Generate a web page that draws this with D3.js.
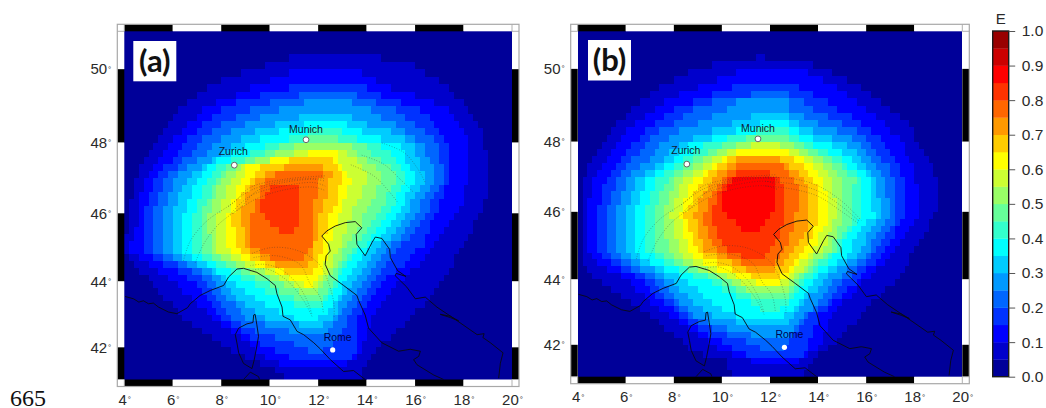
<!DOCTYPE html>
<html><head><meta charset="utf-8">
<script src="https://cdn.jsdelivr.net/npm/d3@7/dist/d3.min.js"></script>
<style>
html,body{margin:0;padding:0;background:#fff}
svg{display:block}
text{font-family:"Liberation Sans",Arial,sans-serif}
</style></head><body>
<svg id="c" width="1046" height="408"></svg>
<script>
// colour classes of the E scale (0.0 - 1.0, steps of 0.05)
const bandEdges = d3.range(0, 21).map(i => i / 20);
const bandColors = ["#000099","#0000cc","#0000ff","#0033ff","#0066ff","#0099ff","#00ccff","#00ffff","#33ffcc","#66ff99","#99ff66","#ccff33","#ffff00","#ffcc00","#ff9900","#ff6600","#ff3300","#ff0000","#cc0000","#990000"];
const lonTicks = [4,6,8,10,12,14,16,18,20];
const latTicks = [42,44,46,48,50];
const barTicks = [0,0.1,0.2,0.3,0.4,0.5,0.6,0.7,0.8,0.9,1.0];
const lonEdges = [4,20], latEdges = [41,51], cellDeg = 0.2;

// class reached in each 0.2° cell, read row by row (row 0 = 51°N):
// one list per class: first row, then start,end column pairs for the following rows
const classesA = [
[3,34,53,29,60,24,62,20,65,17,67,15,68,13,70,11,71,10,72,9,73,8,74,7,74,6,74,5,75,4,75,3,75,3,75,2,75,2,75,2,75,1,74,1,74,1,73,1,72,1,72,0,71,0,70,0,69,1,68,2,68,3,67,5,66,6,65,7,64,8,63,10,62,11,60,12,59,14,58,16,56,18,55,20,53,22,52,25,51,28,50,31,49,33,49],
[5,34,49,30,52,26,55,23,60,19,64,16,67,15,68,13,69,12,70,10,71,9,71,8,71,7,71,6,71,5,71,4,71,4,70,3,70,3,70,3,69,3,68,3,67,2,66,2,65,1,64,1,63,3,62,5,61,7,59,9,58,11,56,12,55,14,54,15,53,17,52,18,51,20,51,22,50,24,50,26,49,27,49,29,48,32,46],
[7,34,50,28,53,23,57,20,61,18,63,16,64,15,65,13,66,12,67,11,67,10,67,8,67,7,67,6,67,6,66,5,66,5,65,4,65,4,64,4,63,4,63,4,62,4,62,4,60,6,59,8,58,11,56,13,54,15,53,16,52,17,51,18,50,19,49,20,48,22,48,24,48,26,48,28,48,31,48,34,47],
[8,36,48,30,52,26,56,23,58,20,60,18,62,16,64,15,65,14,65,12,65,11,66,9,66,8,66,8,65,7,64,7,63,6,63,6,62,6,61,6,60,6,59,6,57,6,56,8,55,11,54,14,53,16,52,17,51,18,50,19,49,20,48,21,47,22,46,24,46,27,45,31,44,35,43,38,41],
[9,37,47,32,51,28,53,25,56,22,58,20,60,18,62,17,62,15,63,13,64,11,64,10,64,10,63,9,62,9,61,8,61,8,60,8,59,8,58,8,57,8,55,8,54,10,53,13,52,16,51,18,50,19,49,20,48,21,47,23,46,24,45,25,44,29,43,34,42],
[11,36,47,31,50,27,55,24,58,22,60,20,60,18,61,16,61,14,62,13,62,12,61,11,60,11,59,10,59,10,58,10,57,10,56,10,55,10,53,10,52,12,51,15,50,18,49,20,48,21,47,22,46,23,45,25,44,27,44,29,43,36,41],
[12,37,46,32,49,28,53,25,57,22,58,19,58,17,59,16,60,15,60,14,59,14,58,13,58,13,57,12,56,12,55,12,54,12,53,12,51,12,50,14,49,17,48,19,47,21,46,23,45,25,45,27,44,29,43,32,42,35,40],
[13,38,45,34,48,29,53,26,55,22,56,19,57,18,58,17,58,16,57,16,56,15,56,15,55,14,54,14,53,14,52,14,51,14,50,14,48,16,47,19,46,22,45,24,44,27,44,29,43,32,42,35,41],
[14,38,44,32,50,29,51,25,53,21,55,20,56,19,56,18,55,18,54,17,54,16,53,16,52,16,51,16,50,16,49,16,48,16,47,18,46,21,45,24,44,27,44,30,43,32,42,35,41],
[15,35,47,31,48,27,50,23,52,21,53,20,53,19,52,19,52,18,51,18,50,17,49,17,49,17,48,18,47,18,46,18,45,20,45,23,44,26,43,30,42,33,41,36,40],
[16,35,46,30,48,24,49,23,50,22,50,21,49,21,49,20,48,20,47,19,47,19,46,19,46,19,45,19,45,19,44,22,43,25,43,29,42,32,41,35,40],
[16,38,44,30,44,25,45,25,46,24,47,23,46,23,46,22,45,22,45,21,44,21,44,21,43,21,43,21,42,22,42,24,42,27,41,31,41,34,40,37,39],
[17,34,43,28,44,27,45,26,45,25,44,24,44,23,44,23,43,22,42,22,42,23,42,23,41,23,41,24,41,26,40,29,40,33,39],
[18,33,41,29,43,27,42,26,42,25,42,25,41,24,41,24,40,24,40,25,40,25,40,25,39,26,39,28,39,31,38],
[19,31,41,29,40,28,40,28,40,27,39,27,39,26,39,26,39,26,39,26,39,26,39,28,38,30,37],
[21,30,36,29,36,28,36,28,36,29,36,30,36,32,35]
];
const classesB = [
[3,37,39,28,49,23,53,20,56,17,59,15,61,13,63,11,65,10,67,8,69,7,70,6,70,5,71,4,72,3,73,2,74,2,74,1,75,1,75,1,75,1,75,1,75,1,74,1,73,1,73,1,72,1,71,1,70,1,69,1,69,2,68,3,67,5,66,7,64,9,63,11,61,13,60,15,59,17,58,18,56,20,55,22,54,23,52,26,50,31,49,31,48,32,47],
[5,33,48,29,51,25,54,21,56,18,58,16,60,14,62,12,64,10,65,9,67,8,68,7,68,6,69,5,70,4,70,3,70,3,71,3,71,2,71,2,71,2,71,2,70,2,69,2,68,2,67,2,66,3,65,4,64,6,62,9,61,11,59,12,58,14,57,15,55,17,54,19,53,21,52,23,52,25,51,27,51,29,50,32,48,36,46],
[7,32,46,28,49,24,52,20,54,18,57,16,59,14,61,13,63,11,64,10,65,9,66,8,67,7,67,6,68,5,68,5,68,5,68,4,68,4,68,4,67,4,66,4,66,4,65,4,64,5,63,7,62,9,60,12,59,14,58,15,56,16,55,18,53,20,52,21,50,23,50,25,49,27,49,30,48,32,48,35,47],
[8,36,44,28,47,24,49,22,52,20,55,17,58,15,60,14,61,13,62,11,63,10,65,9,65,8,66,8,66,7,66,7,66,6,66,6,66,6,66,6,65,6,64,6,63,6,62,7,61,9,60,11,58,14,57,16,55,17,54,18,53,20,52,21,50,23,48,25,47,28,46,31,45,35,44,38,43],
[9,33,44,31,44,28,47,25,50,21,54,19,57,17,59,16,60,15,61,13,62,11,63,10,64,10,64,9,64,9,65,8,65,8,65,8,64,8,63,8,62,8,61,8,61,9,60,11,58,13,56,16,55,18,53,19,52,20,51,21,50,23,49,24,47,27,46,31,45,36,44],
[11,36,44,32,46,28,49,24,53,21,56,19,58,18,59,16,60,14,61,12,62,12,62,11,62,11,63,10,63,10,63,10,62,10,61,10,60,10,60,10,59,11,58,13,56,16,54,18,52,20,51,21,50,23,48,24,47,26,46,28,45,33,44],
[12,38,44,33,46,28,49,23,53,21,55,20,57,18,58,16,60,14,61,14,61,13,61,13,61,12,61,12,62,12,60,12,59,12,58,12,57,12,57,13,56,15,54,18,52,21,50,23,49,25,48,26,47,28,46,30,45,33,43],
[13,37,44,31,46,26,49,24,52,22,55,20,56,18,58,16,59,16,59,15,59,15,59,14,59,14,59,14,58,14,57,14,56,14,55,14,55,16,53,18,52,21,50,24,49,28,47,30,46,33,45,36,44,38,42],
[14,35,44,30,47,27,50,24,53,22,55,20,56,19,58,18,57,17,57,17,57,16,57,16,57,16,57,16,56,16,55,16,54,16,54,18,52,20,50,23,49,27,47,30,46,33,45,36,44],
[15,33,45,29,48,26,51,24,53,22,54,20,55,20,55,19,55,19,55,18,55,18,55,18,55,18,54,18,54,19,53,19,53,20,51,22,49,25,48,29,46,32,45,35,44],
[15,36,42,31,46,28,49,26,51,24,52,22,53,21,53,21,53,20,54,20,54,19,54,20,53,20,53,20,52,21,52,21,51,22,49,24,48,27,47,31,45,34,44],
[16,33,44,30,47,28,49,26,50,24,51,23,51,23,52,22,52,22,52,21,52,22,52,22,51,22,50,23,50,23,49,24,48,26,46,29,45,33,44,37,42],
[17,31,45,29,47,27,48,26,49,25,50,24,50,24,50,23,50,22,50,23,50,23,49,24,49,24,48,25,47,26,46,29,45,32,44,36,42],
[17,33,42,31,44,29,46,28,47,27,48,26,48,25,48,25,48,24,48,25,48,25,48,25,47,26,46,26,45,29,44,32,43,35,41],
[18,33,43,31,44,30,45,29,46,28,46,27,46,27,46,26,45,26,45,27,45,27,44,28,44,29,43,31,42,34,41],
[19,33,40,31,42,30,43,29,43,29,43,28,43,28,43,28,43,29,42,29,42,30,41,31,40,34,39],
[20,32,41,31,41,30,41,30,41,30,41,31,40,33,39,34,38]
];

// coastlines (lon, lat)
const coastItalyWest = [[4.03,43.55],[4.38,43.48],[4.6,43.38],[4.79,43.42],[5.0,43.33],[5.20,43.35],[5.41,43.23],[5.82,43.08],[6.17,43.03],[6.61,43.21],[6.72,43.33],[7.13,43.58],[7.55,43.73],[8.10,43.88],[8.30,44.13],[8.65,44.37],[8.92,44.39],[9.47,44.27],[9.89,44.08],[10.23,43.88],[10.30,43.63],[10.51,43.23],[10.55,42.95],[10.85,42.84],[11.13,42.49],[11.40,42.39],[11.82,42.14],[12.09,41.95],[12.50,41.62],[13.05,41.25],[13.46,41.28],[13.94,41.0]];
const coastAdriatic = [[17.18,41.0],[16.77,41.14],[16.08,41.46],[15.94,41.62],[16.15,41.72],[16.22,41.88],[15.80,41.94],[15.32,41.88],[14.63,42.14],[14.08,42.59],[13.94,42.99],[13.67,43.43],[13.60,43.58],[13.05,43.88],[12.50,44.17],[12.29,44.51],[12.33,44.76],[12.50,44.90],[12.43,45.10],[12.15,45.34],[12.36,45.49],[12.70,45.63],[13.12,45.73],[13.53,45.76],[13.80,45.58],[13.57,45.39],[13.60,45.10],[13.94,44.76],[14.22,45.15],[14.36,45.31],[14.63,45.27],[14.95,44.95],[14.98,44.71],[15.28,44.32],[15.62,44.15],[15.22,44.24],[15.18,44.17],[15.66,43.83],[16.01,43.48],[16.42,43.53],[16.90,43.23],[17.59,42.89],[18.56,42.39],[18.85,42.42],[18.8,42.3],[19.11,42.14],[19.63,41.83],[19.52,41.51],[19.45,41.04]];
const coastCorsica = [[9.40,43.01],[9.47,42.69],[9.54,42.34],[9.47,42.04],[9.36,41.61],[9.27,41.34],[8.92,41.50],[8.72,41.83],[8.65,42.13],[8.58,42.39],[8.72,42.59],[9.06,42.72],[9.31,42.76],[9.34,42.99],[9.40,43.01]];
const coastSardinia = [[8.92,41.0],[9.2,41.23],[9.54,41.09],[9.58,41.0]];
const coastPeljesac = [[17.04,43.01],[17.46,42.95],[17.8,42.81],[17.46,42.91],[17.04,43.01]];
const coasts = [coastItalyWest, coastAdriatic, coastCorsica, coastSardinia, coastPeljesac];

// dotted fault arcs (lon, lat)
const arcsWest = [
[[6.44,44.61],[6.72,45.19],[7.41,45.78],[8.51,46.31],[9.2,46.74],[10.58,46.97],[11.82,47.05],[12.29,47.07]],
[[6.93,44.56],[7.27,45.10],[7.89,45.68],[8.79,46.17],[9.47,46.64],[10.58,46.88],[11.82,46.97],[12.29,46.92]],
[[8.37,45.97],[9.2,46.5],[10.58,46.78],[11.82,46.88],[12.29,46.78]],
[[8.5,46.0],[9.4,46.4],[10.6,46.67],[11.8,46.75],[12.3,46.65]],
[[8.3,46.2],[9.2,46.65],[10.6,46.93],[11.9,47.0],[12.3,47.0]]];
const arcsSouth = [
[[9.27,44.83],[10.03,45.0],[10.99,44.95],[11.82,44.66],[12.22,44.32],[12.63,43.43],[12.66,42.94]],
[[9.2,44.47],[9.75,44.51],[10.44,44.37],[11.13,43.93],[11.54,43.43],[11.75,42.99]],
[[9.2,44.32],[9.89,44.37],[10.71,44.03],[11.40,43.43],[11.75,42.94]],
[[9.34,44.71],[10.3,44.76],[11.26,44.5],[11.67,43.93],[12.08,43.53],[12.22,43.03]]];
const arcsEastA = [
[[14.63,47.99],[15.53,47.73],[16.08,47.3],[16.42,46.88]],
[[13.8,47.65],[14.7,47.4],[15.39,46.97],[15.94,46.6]],
[[13.35,47.38],[14.29,47.07],[14.91,46.64],[15.32,46.28]]];
const arcsEastB = [
[[11.8,47.0],[13.0,46.95],[14.0,46.75],[15.0,46.3],[15.8,45.75]],
[[11.8,46.88],[13.0,46.8],[14.0,46.6],[15.0,46.15],[15.75,45.7]],
[[11.8,46.75],[13.0,46.65],[14.0,46.45],[15.0,46.0],[15.7,45.65]]];

const cities = [
 {name:"Zurich", lon:8.54, lat:47.37, ring:true},
 {name:"Munich", lon:11.5, lat:48.08, ring:true},
 {name:"Rome",   lon:12.6, lat:41.92, ring:false}];

const panels = [
 {tag:"(a)", classes:classesA, arcs:[...arcsWest,...arcsSouth,...arcsEastA], x:[124.3,512], y:[31.3,379.5], box:[133.3,41,43,40.3]},
 {tag:"(b)", classes:classesB, arcs:[...arcsWest,...arcsSouth,...arcsEastB], x:[577.7,962.3], y:[31.3,376.7], box:[588,40,43,40.5]}
];

const svg = d3.select("#c");
svg.append("defs").append("filter").attr("id","soft").attr("x","-2%").attr("y","-2%").attr("width","104%").attr("height","104%")
   .append("feGaussianBlur").attr("stdDeviation",0.45);

const merc = d3.geoMercator().scale(1).translate([0,0]);
const band = 7;

panels.forEach(p => {
  const lonX = d3.scaleLinear().domain(lonEdges).range(p.x);
  const yOf = d3.scaleLinear().domain(latEdges.map(l => merc([0,l])[1])).range([p.y[1],p.y[0]]);
  const latY = l => yOf(merc([0,l])[1]);
  const pt = ([lon,lat]) => [lonX(lon), latY(lat)];
  const g = svg.append("g");

  // grid of classes
  const nRows = Math.round((latEdges[1]-latEdges[0])/cellDeg), nCols = Math.round((lonEdges[1]-lonEdges[0])/cellDeg);
  const grid = d3.range(nRows).map(() => new Array(nCols).fill(0));
  p.classes.forEach((list,i) => {
    const first = list[0];
    for (let k=1,r=first; k<list.length; k+=2,r++)
      for (let c=list[k]; c<list[k+1]; c++) if (c>=0&&c<nCols&&r<nRows) grid[r][c]=i+1;
  });
  const cells = [];
  grid.forEach((row,r) => row.forEach((v,c) => cells.push({r,c,v})));
  const map = g.append("g").attr("filter","url(#soft)");
  map.selectAll("rect").data(cells).join("rect")
    .attr("x", d => lonX(lonEdges[0]+d.c*cellDeg))
    .attr("y", d => latY(latEdges[1]-d.r*cellDeg))
    .attr("width", d => lonX(lonEdges[0]+(d.c+1)*cellDeg)-lonX(lonEdges[0]+d.c*cellDeg))
    .attr("height", d => latY(latEdges[1]-(d.r+1)*cellDeg)-latY(latEdges[1]-d.r*cellDeg))
    .attr("shape-rendering","crispEdges")
    .attr("fill", d => bandColors[d.v]);

  const clipId = "clip"+p.tag[1];
  svg.select("defs").append("clipPath").attr("id",clipId).append("rect")
     .attr("x",p.x[0]).attr("y",p.y[0]).attr("width",p.x[1]-p.x[0]).attr("height",p.y[1]-p.y[0]);
  const over = g.append("g").attr("clip-path",`url(#${clipId})`);
  const arcLine = d3.line().curve(d3.curveCatmullRom).x(d=>pt(d)[0]).y(d=>pt(d)[1]);
  over.selectAll("path.arc").data(p.arcs).join("path").attr("class","arc")
     .attr("d",arcLine).attr("fill","none").attr("stroke","#333").attr("stroke-width",0.7)
     .attr("stroke-dasharray","0.8 1.8").attr("opacity",0.65);
  const coastLine = d3.line().x(d=>pt(d)[0]).y(d=>pt(d)[1]);
  over.selectAll("path.coast").data(coasts).join("path").attr("class","coast")
     .attr("d",coastLine).attr("fill","none").attr("stroke","#0a0a12").attr("stroke-width",0.9).attr("stroke-linejoin","round");

  // cities
  g.selectAll("circle").data(cities).join("circle")
    .attr("cx",d=>pt([d.lon,d.lat])[0]).attr("cy",d=>pt([d.lon,d.lat])[1]).attr("r",d=>d.ring?2.9:2.6)
    .attr("fill","#fff").attr("stroke",d=>d.ring?"#666":"none").attr("stroke-width",1);
  g.selectAll("text.city").data(cities).join("text").attr("class","city")
    .attr("x",d=>pt([d.lon,d.lat])[0]+(d.name==="Rome"?5:d.name==="Zurich"?-1:0))
    .attr("y",d=>pt([d.lon,d.lat])[1]-(d.name==="Rome"?9:d.name==="Munich"?7:10.3))
    .attr("text-anchor","middle").attr("font-size",10.5).attr("fill",d=>d.ring?"#102030":"#000050").text(d=>d.name);

  // fancy frame
  const fx=[p.x[0]-band,p.x[1]+band], fy=[p.y[0]-band,p.y[1]+band];
  const frame=g.append("g");
  const lonPairs=d3.pairs(lonTicks);
  [[fy[0],p.y[0]],[p.y[1],fy[1]]].forEach(([a,b])=>{
    frame.append("g").selectAll("rect").data(lonPairs).join("rect")
      .attr("x",d=>lonX(d[0])).attr("width",d=>lonX(d[1])-lonX(d[0])).attr("y",a).attr("height",b-a)
      .attr("fill",(d,i)=>i%2?"#fff":"#000");
  });
  const latPairs=d3.pairs([51,50,48,46,44,42,41]);
  [[fx[0],p.x[0]],[p.x[1],fx[1]]].forEach(([a,b])=>{
    frame.append("g").selectAll("rect").data(latPairs).join("rect")
      .attr("y",d=>latY(d[0])).attr("height",d=>latY(d[1])-latY(d[0])).attr("x",a).attr("width",b-a)
      .attr("fill",(d,i)=>i%2?"#000":"#fff");
  });
  frame.append("rect").attr("x",fx[0]).attr("y",fy[0]).attr("width",fx[1]-fx[0]).attr("height",fy[1]-fy[0])
    .attr("fill","none").attr("stroke","#a8a8a8").attr("stroke-width",1.2);
  frame.append("path").attr("fill","none").attr("stroke","#a8a8a8").attr("stroke-width",0.9)
    .attr("d",`M${fx[0]},${p.y[0]}H${p.x[0]}V${fy[0]}M${p.x[1]},${fy[0]}V${p.y[0]}H${fx[1]}M${fx[0]},${p.y[1]}H${p.x[0]}V${fy[1]}M${p.x[1]},${fy[1]}V${p.y[1]}H${fx[1]}`);

  // axes
  const degStyle = sel => sel.selectAll(".tick text").each(function(){
    const t=d3.select(this), s=t.text(); t.text("");
    t.append("tspan").text(s.slice(0,-1));
    t.append("tspan").attr("font-size",8).attr("dy","-0.35em").attr("dx",1).text("°");
  });
  const bottomAxis=d3.axisBottom(lonX).tickValues(lonTicks).tickSize(0).tickPadding(8).tickFormat(d=>d+"°");
  const ga=g.append("g").attr("transform",`translate(0,${fy[1]})`).call(bottomAxis);
  const latScale=d3.scaleLinear().domain(latTicks).range(latTicks.map(latY));
  const leftAxis=d3.axisLeft(latScale).tickValues(latTicks).tickSize(0).tickPadding(6).tickFormat(d=>d+"°");
  const gl=g.append("g").attr("transform",`translate(${fx[0]},0)`).call(leftAxis);
  [ga,gl].forEach(a=>{a.select(".domain").remove();a.attr("font-size",15).attr("font-family",null);a.selectAll("text").attr("fill","#2a2a2a");degStyle(a);});

  // panel tag
  g.append("rect").attr("x",p.box[0]).attr("y",p.box[1]).attr("width",p.box[2]).attr("height",p.box[3]).attr("fill","#fff");
  g.append("text").attr("x",p.box[0]+p.box[2]/2).attr("y",p.box[1]+p.box[3]/2+10.5).attr("text-anchor","middle")
    .attr("font-size",31).attr("font-weight",700).style("font-family","Lato,'Open Sans',sans-serif").attr("fill","#111").text(p.tag);
});

// colour bar
const barX=[992.7,1008.7], barY=[376.7,31];
const barScale=d3.scaleLinear().domain([0,1]).range(barY);
const bands=d3.pairs(bandEdges).map((d,i)=>({lo:d[0],hi:d[1],color:bandColors[i]}));
const bar=svg.append("g");
bar.selectAll("rect").data(bands).join("rect")
  .attr("x",barX[0]).attr("width",barX[1]-barX[0]).attr("y",d=>barScale(d.hi)).attr("height",d=>barScale(d.lo)-barScale(d.hi)+0.3)
  .attr("fill",d=>d.color);
bar.append("rect").attr("x",barX[0]).attr("y",barY[1]).attr("width",barX[1]-barX[0]).attr("height",barY[0]-barY[1])
  .attr("fill","none").attr("stroke","#1a1a1a").attr("stroke-width",1.4);
const barAxis=d3.axisRight(barScale).tickValues(barTicks).tickSize(6.5).tickPadding(6.5).tickFormat(d3.format(".1f"));
const gb=bar.append("g").attr("transform",`translate(${barX[1]},0)`).call(barAxis);
gb.select(".domain").remove();
gb.attr("font-size",15.5).attr("font-family",null);
gb.selectAll("text").attr("fill","#2a2a2a");
gb.selectAll("line").attr("stroke","#555");
bar.append("text").attr("x",(barX[0]+barX[1])/2).attr("y",24).attr("text-anchor","middle").attr("font-size",15).attr("fill","#2a2a2a").text("E");

// page number printed beside the figure
svg.append("text").attr("x",10).attr("y",405.7).attr("font-size",24).style("font-family","'Liberation Serif',serif").attr("fill","#111").text("665");
</script>
</body></html>
